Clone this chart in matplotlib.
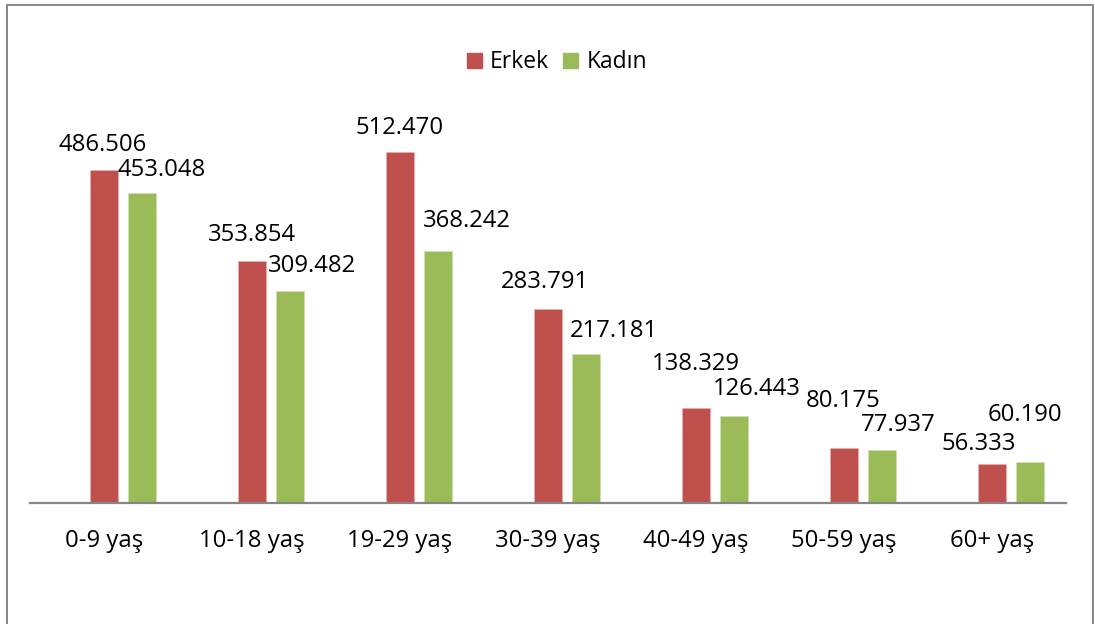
import matplotlib
matplotlib.use("Agg")
import matplotlib.pyplot as plt
from matplotlib.patches import Rectangle, Patch
import numpy as np

plt.rcParams['font.family'] = ['Open Sans', 'DejaVu Sans']

age_groups = ['0-9 yaş', '10-18 yaş', '19-29 yaş', '30-39 yaş', '40-49 yaş', '50-59 yaş', '60+ yaş']
erkek = [486506, 353854, 512470, 283791, 138329, 80175, 56333]
kadin = [453048, 309482, 368242, 217181, 126443, 77937, 60190]

# hand-placed label offsets (pixels) as in the original
erkek_off = [(-1, 19), (0, 20), (0, 18), (-3, 21), (0, 38), (-1, 41), (-13, 14)]
kadin_off = [(20, 17), (22, 19), (29, 24), (28, 17), (23, 21), (16, 19), (-5, 41)]

RED = '#C0504D'
GREEN = '#9BBB59'
FS = 17.2

W, H = 1095, 624
fig = plt.figure(figsize=(W / 100, H / 100), dpi=100)
ax = fig.add_axes([30 / W, 121 / H, 1036 / W, 411 / H])

x = np.arange(len(age_groups))
bw = 0.187
step = 0.256
ax.bar(x, erkek, bw, color=RED, edgecolor='#E8B0AE', linewidth=0.4, label='Erkek')
ax.bar(x + step, kadin, bw, color=GREEN, edgecolor='#D2E2B4', linewidth=0.4, label='Kadın')

for xi, v, (dx, dy) in zip(x, erkek, erkek_off):
    ax.annotate(f"{v / 1000:.3f}", (xi, v), xytext=(dx, dy), textcoords='offset pixels',
                ha='center', va='baseline', fontsize=FS, color='black', annotation_clip=False)
for xi, v, (dx, dy) in zip(x, kadin, kadin_off):
    ax.annotate(f"{v / 1000:.3f}", (xi + step, v), xytext=(dx, dy), textcoords='offset pixels',
                ha='center', va='baseline', fontsize=FS, color='black', annotation_clip=False)

ax.set_xlim(-0.5, len(age_groups) - 0.5)
ax.set_ylim(0, 600000)
ax.set_xticks(x)
ax.set_xticklabels(age_groups, fontsize=FS)
ax.tick_params(axis='x', length=0, pad=19)
ax.set_yticks([])
for s in ['left', 'right', 'top']:
    ax.spines[s].set_visible(False)
ax.spines['bottom'].set_color('#868686')
ax.spines['bottom'].set_linewidth(1.6)

handles = [Patch(color=RED, label='Erkek'), Patch(color=GREEN, label='Kadın')]
fig.legend(handles=handles, loc='center', bbox_to_anchor=(557 / W, 1 - 62.5 / H), ncol=2,
           frameon=False, fontsize=16.5, handlelength=0.66, handleheight=0.66,
           handletextpad=0.34, columnspacing=0.62)

# outer chart border
fig.patches.append(Rectangle((7 / W, -0.05), (1092.5 - 7) / W, 1.05 - 4.7 / H,
                             transform=fig.transFigure, fill=False,
                             edgecolor='#868686', linewidth=1.4))

fig.savefig('out.png', dpi=100)
